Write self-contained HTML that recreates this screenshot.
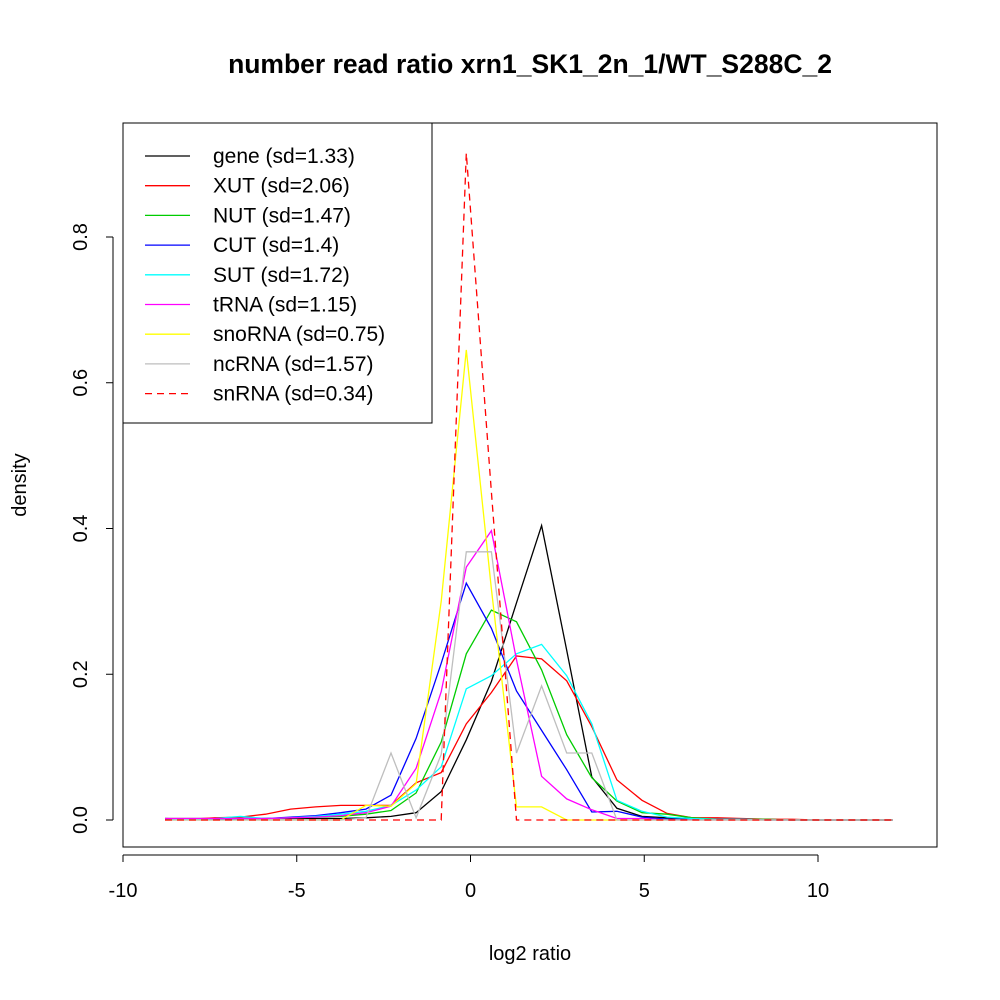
<!DOCTYPE html>
<html><head><meta charset="utf-8"><style>body{margin:0;background:#fff}svg{display:block;font-family:"Liberation Sans",sans-serif}</style></head>
<body>
<svg id="chart" width="1000" height="1000" viewBox="0 0 1000 1000">
<text x="530" y="73" font-size="26.5" font-weight="bold" text-anchor="middle">number read ratio xrn1_SK1_2n_1/WT_S288C_2</text>
<rect x="123" y="123" width="814" height="724" fill="none" stroke="#000"/>
<g id="axes"></g>
<g id="series"></g>
<text x="530" y="960" font-size="20" text-anchor="middle">log2 ratio</text>
<text transform="translate(26,485) rotate(-90)" font-size="20" text-anchor="middle">density</text>
<g id="legend"></g>
</svg>
<script>
const xStart = -8.79, xStep = 0.7224;
const xTicks = [-10, -5, 0, 5, 10];
const yTicks = [0.0, 0.2, 0.4, 0.6, 0.8];
const seriesNames = ["gene (sd=1.33)","XUT (sd=2.06)","NUT (sd=1.47)","CUT (sd=1.4)","SUT (sd=1.72)","tRNA (sd=1.15)","snoRNA (sd=0.75)","ncRNA (sd=1.57)","snRNA (sd=0.34)"];
const seriesColors = ["#000","#f00","#0c0","#00f","#0ff","#f0f","#ff0","#bebebe","#f00"];
const gene = [0.002,0.002,0.002,0.002,0.002,0.002,0.002,0.002,0.003,0.005,0.01,0.039,0.11,0.19,0.298,0.404,0.233,0.059,0.016,0.005,0.003,0.002,0.001,0.001,0.001,0,0,0,0,0];
const xut = [0.002,0.001,0.003,0.004,0.008,0.015,0.018,0.02,0.02,0.02,0.051,0.065,0.132,0.175,0.225,0.221,0.191,0.128,0.055,0.027,0.009,0.003,0.003,0.002,0.001,0.001,0,0,0,0];
const nut = [0.001,0.001,0.001,0.002,0.002,0.003,0.004,0.005,0.008,0.013,0.037,0.107,0.228,0.288,0.272,0.206,0.117,0.058,0.026,0.01,0.008,0.003,0.001,0.001,0.001,0,0,0,0,0];
const cut = [0.001,0.001,0.001,0.002,0.002,0.004,0.006,0.01,0.015,0.034,0.112,0.215,0.325,0.263,0.177,0.123,0.069,0.011,0.012,0.004,0.001,0.001,0.001,0.001,0,0,0,0,0,0];
const sut = [0.002,0.001,0.002,0.005,0.002,0.003,0.005,0.008,0.012,0.02,0.041,0.073,0.18,0.198,0.228,0.241,0.198,0.132,0.027,0.012,0.004,0.002,0.001,0.001,0,0,0,0,0,0];
const trna = [0.002,0.002,0.002,0.002,0.002,0.003,0.004,0.006,0.01,0.019,0.071,0.176,0.347,0.397,0.22,0.06,0.029,0.014,0.002,0.002,0,0,0,0,0,0,0,0,0,0];
const snorna = [0,0,0,0,0,0,0,0,0.02,0.019,0.05,0.3,0.645,0.317,0.018,0.018,0,0,0,0,0,0,0,0,0,0,0,0,0,0];
const ncrna = [0,0,0,0,0,0,0,0,0.003,0.092,0.003,0.09,0.368,0.368,0.092,0.184,0.092,0.092,0,0,0,0,0,0,0,0,0,0,0,0];
const snrna = [0,0,0,0,0,0,0,0,0,0,0,0,0.915,0.45,0,0,0,0,0,0,0,0,0,0,0,0,0,0,0,0];
const allSeries = [gene,xut,nut,cut,sut,trna,snorna,ncrna,snrna];
const seriesKeys = ["gene","xut","nut","cut","sut","trna","snorna","ncrna","snrna"];

const NS = "http://www.w3.org/2000/svg";
function xs(v){ return 470.5 + v*34.75; }
function ys(v){ return 820 - v*728.75; }
function mk(tag, attrs, parent){ const e=document.createElementNS(NS,tag); for(const k in attrs) e.setAttribute(k,attrs[k]); parent.appendChild(e); return e; }
const axes=document.getElementById("axes");
let ax = mk("line",{x1:xs(-10),x2:xs(10),y1:855,y2:855,stroke:"#000"},axes);


xTicks.forEach(t=>{
  const l=mk("line",{x1:xs(t),x2:xs(t),y1:855,y2:862,stroke:"#000"},axes);
  
  
  const tx=mk("text",{x:xs(t),y:897,"font-size":20,"text-anchor":"middle"},axes);
  tx.textContent=String(t);
  
  
});
let ay = mk("line",{x1:113,x2:113,y1:ys(0),y2:ys(0.8),stroke:"#000"},axes);


yTicks.forEach(t=>{
  const l=mk("line",{x1:106,x2:113,y1:ys(t),y2:ys(t),stroke:"#000"},axes);
  
  
  const tx=mk("text",{transform:`translate(87,${ys(t)}) rotate(-90)`,"font-size":20,"text-anchor":"middle"},axes);
  tx.textContent=t.toFixed(1);
  
  
});
const sg=document.getElementById("series");
allSeries.forEach((arr,si)=>{
  const pts=arr.map((v,i)=>xs(xStart+i*xStep).toFixed(1)+","+ys(v).toFixed(1)).join(" ");
  const p=mk("polyline",{points:pts,fill:"none",stroke:seriesColors[si],"stroke-width":1.3},sg);
  if(si===8) p.setAttribute("stroke-dasharray","7,5");
  
  
});
const lg=document.getElementById("legend");
const box=mk("rect",{x:123,y:123,width:309,height:300,fill:"#fff",stroke:"#000"},lg);


seriesNames.forEach((n,i)=>{
  const y=156+i*29.7;
  const g=mk("g",{},lg);
  
  
  const l=mk("line",{x1:145,x2:190,y1:y,y2:y,stroke:seriesColors[i],"stroke-width":1.3},g);
  if(i===8) l.setAttribute("stroke-dasharray","7,5");
  const t=mk("text",{x:213,y:y+7,"font-size":21},g);
  t.textContent=n;
});
</script>
</body></html>
